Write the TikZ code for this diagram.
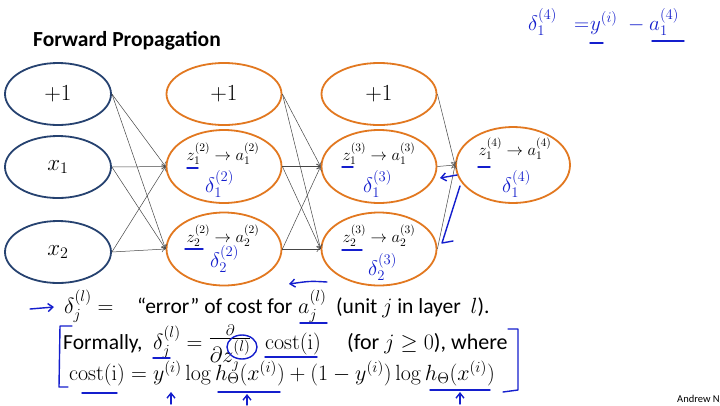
\RequirePackage{fix-cm}
\documentclass[tikz,border=0pt]{standalone}
\usepackage{amsmath,amssymb}
\usepackage[no-math]{fontspec}
\setmainfont{Carlito}
\usetikzlibrary{shapes.geometric,arrows.meta}
\definecolor{inblue}{RGB}{38,66,112}
\definecolor{hidorange}{RGB}{226,120,32}
\definecolor{linegray}{RGB}{70,70,70}
\definecolor{ink}{RGB}{20,30,205}
\tikzset{
  inl/.style={ellipse, draw=inblue, line width=1.8pt, minimum width=106pt, minimum height=62pt, inner sep=0pt, font=\fontsize{23}{26}\selectfont},
  hid/.style={ellipse, draw=hidorange, line width=1.8pt, minimum width=115pt, minimum height=73pt, inner sep=0pt},
  bias/.style={hid, minimum height=62pt, font=\fontsize{23}{26}\selectfont},
  conn/.style={draw=linegray, line width=0.5pt, -{To[length=4pt,width=6pt]}},
  lbl/.style={inner sep=0pt, anchor=base, font=\fontsize{16.5}{18}\selectfont},
  dlt/.style={inner sep=0pt, anchor=base west, text=ink, font=\fontsize{21}{24}\selectfont},
  inkline/.style={draw=ink, line width=1.4pt, line cap=round, line join=round},
  inkarrow/.style={inkline, -{Straight Barb[length=5pt,width=8pt]}},
  txt/.style={inner sep=0pt, anchor=base west, font=\fontsize{21.5}{26}\selectfont},
  mth/.style={inner sep=0pt, anchor=base west, font=\fontsize{22}{26}\selectfont},
}
\begin{document}
\begin{tikzpicture}[x=1pt,y=-1pt]
\useasboundingbox[fill=white] (0,0) rectangle (720,405);

\node[inner sep=0pt, anchor=base west, font=\fontsize{21.5}{24}\selectfont\bfseries] (title) at (33,46) {Forward Propagation};

% layer 1
\node[inl] (b1) at (58,94) {$+1$};
\node[inl] (x1) at (58,167) {$x_1$};
\node[inl] (x2) at (58,252) {$x_2$};
% layer 2
\node[bias] (b2) at (224,94) {$+1$};
\node[hid] (h21) at (224,166.5) {};
\node[hid] (h22) at (224,249) {};
% layer 3
\node[bias] (b3) at (379,94) {$+1$};
\node[hid] (h31) at (379,166.5) {};
\node[hid] (h32) at (379,249) {};
% layer 4
\node[hid, minimum width=114pt, minimum height=76pt] (h41) at (513,165) {};

\node[lbl] (t21) at (223,160) {$z_1^{(2)}\rightarrow a_1^{(2)}$};
\node[lbl] (t22) at (223,242) {$z_2^{(2)}\rightarrow a_2^{(2)}$};
\node[lbl] (t31) at (379,160) {$z_1^{(3)}\rightarrow a_1^{(3)}$};
\node[lbl] (t32) at (379,242) {$z_2^{(3)}\rightarrow a_2^{(3)}$};
\node[lbl] (t41) at (515,155) {$z_1^{(4)}\rightarrow a_1^{(4)}$};

% connections
\foreach \s in {b1,x1,x2} \foreach \t in {h21,h22} \draw[conn] (\s.east) -- (\t.west);
\foreach \s in {b2,h21,h22} \foreach \t in {h31,h32} \draw[conn] (\s.east) -- (\t.west);
\foreach \s in {b3,h31,h32} \draw[conn] (\s.east) -- (h41.west);

% handwritten deltas
\node[dlt] (d21) at (205,192) {$\delta^{(2)}_1$};
\node[dlt] (d22) at (210,267) {$\delta^{(2)}_2$};
\node[dlt] (d31) at (363,192) {$\delta^{(3)}_1$};
\node[dlt] (d32) at (368,275) {$\delta^{(3)}_2$};
\node[dlt] (d41) at (502,192) {$\delta^{(4)}_1$};

% underlines under z
\draw[inkline] (187,168) -- (198,168);
\draw[inkline] (185,249) -- (203,249);
\draw[inkline] (342,167) -- (353,167);
\draw[inkline] (342,250) -- (362,250);
\draw[inkline] (478,167) -- (490,167);

% back-prop strokes
\coordinate (bp1s) at (457,175);
\coordinate (bp1e) at (440,178);
\draw[inkarrow] (bp1s) -- (bp1e);
\coordinate (bl1) at (460,186);
\coordinate (bl2) at (442,243);
\coordinate (bl3) at (453,241);
\draw[inkline] (bl1) -- (bl2) -- (bl3);
\coordinate (bp2s) at (327,282);
\coordinate (bp2e) at (289,284);
\draw[inkarrow] (bp2s) .. controls (310,281) .. (bp2e);

% top-right annotation
\node[dlt] (tr1) at (528,30) {$\delta^{(4)}_1$};
\node[dlt] (tr2) at (574,30) {$=$};
\node[dlt] (tr3) at (590,30) {$y^{(i)}$};
\node[dlt] (tr4) at (628,30) {$-$};
\node[dlt] (tr5) at (649,30) {$a^{(4)}_1$};
\draw[inkline] (590,43) -- (603,43);
\draw[inkline] (652,41) -- (684,41);

% bottom text, line 1
\coordinate (ar1s) at (30,309);
\coordinate (ar1e) at (54,307);
\draw[inkarrow] (ar1s) -- (ar1e);
\node[mth] (l1a) at (64,313) {$\delta_j^{(l)} =$};
\node[txt] (l1b) at (137,313) {“error” of cost for};
\node[mth] (l1c) at (298,313) {$a_j^{(l)}$};
\node[txt] (l1d) at (336,313) {(unit {\fontsize{22}{26}\selectfont$j$} in layer \ {\fontsize{22}{26}\selectfont$l$}).};
% line 2
\node[txt] (l2a) at (63,349) {Formally,};
\node[mth] (l2b) at (153,349) {$\delta_j^{(l)} = \raisebox{5pt}{$\frac{\scriptstyle\partial}{\textstyle\partial z_j^{(l)}}$}$};
\node[mth] (l2c) at (265,349) {$\mathrm{cost(i)}$};
\node[txt, font=\fontsize{22}{26}\selectfont] (l2d) at (347,349) {(for $j \ge 0$), where};
% line 3
\node[mth] (line3) at (69,380) {$\mathrm{cost(i)} = y^{(i)}\log h_\Theta(x^{(i)}) + (1-y^{(i)})\log h_\Theta(x^{(i)})$};

% annotations on bottom text
\draw[inkline] (300,323) -- (327,323);
\draw[inkline] (153,358) -- (170,358);
\draw[inkline] (242,347) ellipse [x radius=15, y radius=12];
\draw[inkline] (265,357) -- (317,357);
\draw[inkline] (82,393) -- (117,393);
\draw[inkline] (218,392) -- (280,392);
\draw[inkline] (430,390) -- (490,390);
\coordinate (ua1) at (171,404); \coordinate (ua1e) at (171,392);
\coordinate (ua2) at (247,405); \coordinate (ua2e) at (247,394);
\coordinate (ua3) at (460,404); \coordinate (ua3e) at (460,392);
\draw[inkarrow] (ua1) -- (ua1e);
\draw[inkarrow] (ua2) -- (ua2e);
\draw[inkarrow] (ua3) -- (ua3e);
% brackets
\draw[inkline] (72,326) -- (60,326) -- (59,387) -- (68,387);
\draw[inkline] (508,329) -- (518,329) -- (518,390) -- (503,392);

\node[inner sep=0pt, anchor=base west, font=\fontsize{10.5}{12}\selectfont] (credit) at (677,402) {Andrew Ng};
\end{tikzpicture}
\end{document}
